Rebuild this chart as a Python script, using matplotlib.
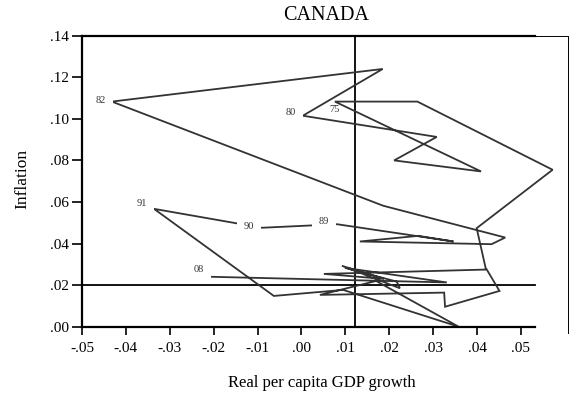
import matplotlib
matplotlib.use("Agg")
import matplotlib.pyplot as plt

# Data (real per capita GDP growth, inflation) in time order
years = ["71", "72", "73", "74", "75", "76", "77", "78", "80", "81", "82", "83", "84", "85",
         "86", "87", "88", "89", "90", "91", "92", "93", "94", "95", "96", "97", "98",
         "99", "00", "01", "02", "03", "04", "05", "06", "07", "08"]
growth = [0.0420, 0.0399, 0.0572, 0.0264, 0.0076, 0.0409, 0.0211, 0.0308, 0.0003, 0.0185,
          -0.0432, 0.0186, 0.0464, 0.0433, 0.0133, 0.0266, 0.0346, 0.0081, -0.0090,
          -0.0336, -0.0063, 0.0095, 0.0358, 0.0170, 0.0042, 0.0325, 0.0327, 0.0451,
          0.0422, 0.0051, 0.0188, 0.0092, 0.0224, 0.0217, 0.0099, 0.0331, -0.0204]
inflation = [0.0277, 0.0474, 0.0755, 0.1083, 0.1083, 0.0747, 0.0800, 0.0913, 0.1015, 0.1240,
             0.1083, 0.0582, 0.0429, 0.0397, 0.0410, 0.0437, 0.0410, 0.0493, 0.0476,
             0.0567, 0.0148, 0.0177, 0.0000, 0.0220, 0.0153, 0.0164, 0.0096, 0.0172,
             0.0275, 0.0254, 0.0230, 0.0293, 0.0185, 0.0217, 0.0283, 0.0213, 0.0240]
labeled = ["75", "80", "82", "89", "90", "91", "08"]
label_offsets = {"75": (0, -8), "80": (-12, 3), "82": (-11, 1), "89": (-13, 3),
                 "90": (-13, 1), "91": (-12, 5), "08": (-13, 7)}

xticks = [-0.05, -0.04, -0.03, -0.02, -0.01, 0.00, 0.01, 0.02, 0.03, 0.04, 0.05]
yticks = [0.00, 0.02, 0.04, 0.06, 0.08, 0.10, 0.12, 0.14]
mean_growth = 0.0121
target_infl = 0.02

def fmt(v):
    s = f"{v:.2f}"
    return s.replace("0.", ".", 1)

serif = ["Liberation Serif", "DejaVu Serif"]
plt.rcParams["font.family"] = serif

fig = plt.figure(figsize=(5.69, 3.96), dpi=100)
ax = fig.add_axes([82 / 569, 1 - 326.7 / 396, 486 / 569, 291 / 396])
xmax = -0.05 + 486 / 4390
ax.set_xlim(-0.05, xmax)
ax.set_ylim(0, 0.14)

ax.plot(growth, inflation, color="#333333", lw=1.3, zorder=3, solid_joinstyle="miter")

for yr, gx, iy in zip(years, growth, inflation):
    if yr in labeled:
        dx, dy = label_offsets[yr]
        box = None if yr == "75" else dict(boxstyle="square,pad=0.65", fc="white", ec="none")
        ax.annotate(yr, (gx, iy), xytext=(dx, dy), textcoords="offset pixels",
                    ha="center", va="center", fontsize=7.5, color="#333333",
                    bbox=box, zorder=4)

# reference lines
ax.axvline(mean_growth, color="black", lw=1.3, zorder=2)
ax.plot([-0.05, 0.0533], [target_infl, target_infl], color="black", lw=1.3, zorder=2)

# frame
for s in ["top", "bottom", "right"]:
    ax.spines[s].set_visible(False)
ax.spines["left"].set_linewidth(1.6)
ax.plot([-0.05, 0.0533], [0, 0], color="black", lw=1.6, clip_on=False, zorder=5)
ax.plot([-0.05, 0.0533], [0.14, 0.14], color="black", lw=1.6, clip_on=False, zorder=5)
ax.plot([0.0533, xmax, xmax], [0.14, 0.14, -0.003], color="black", lw=0.7,
        clip_on=False, zorder=5)

ax.set_xticks(xticks)
ax.set_xticklabels([fmt(v) for v in xticks], fontsize=11)
ax.set_yticks(yticks)
ax.set_yticklabels([fmt(v) for v in yticks], fontsize=11)
ax.tick_params(axis="x", direction="out", length=6, width=1.2, pad=5)
ax.tick_params(axis="y", direction="out", length=7, width=1.2, pad=2)

ax.set_xlabel("Real per capita GDP growth", fontsize=12)
ax.xaxis.set_label_coords((322 - 82) / 486, (326.7 - 383) / 291)
ax.xaxis.label.set_va("center")
ax.set_ylabel("Inflation", fontsize=12.5)
ax.yaxis.set_label_coords((22.5 - 82) / 486, (326.7 - 178.5) / 291)
ax.yaxis.label.set_va("center")
fig.text(326 / 569, 1 - 15 / 396, "CANADA", fontsize=14.5, ha="center", va="center")

fig.savefig("out.png", dpi=100)
